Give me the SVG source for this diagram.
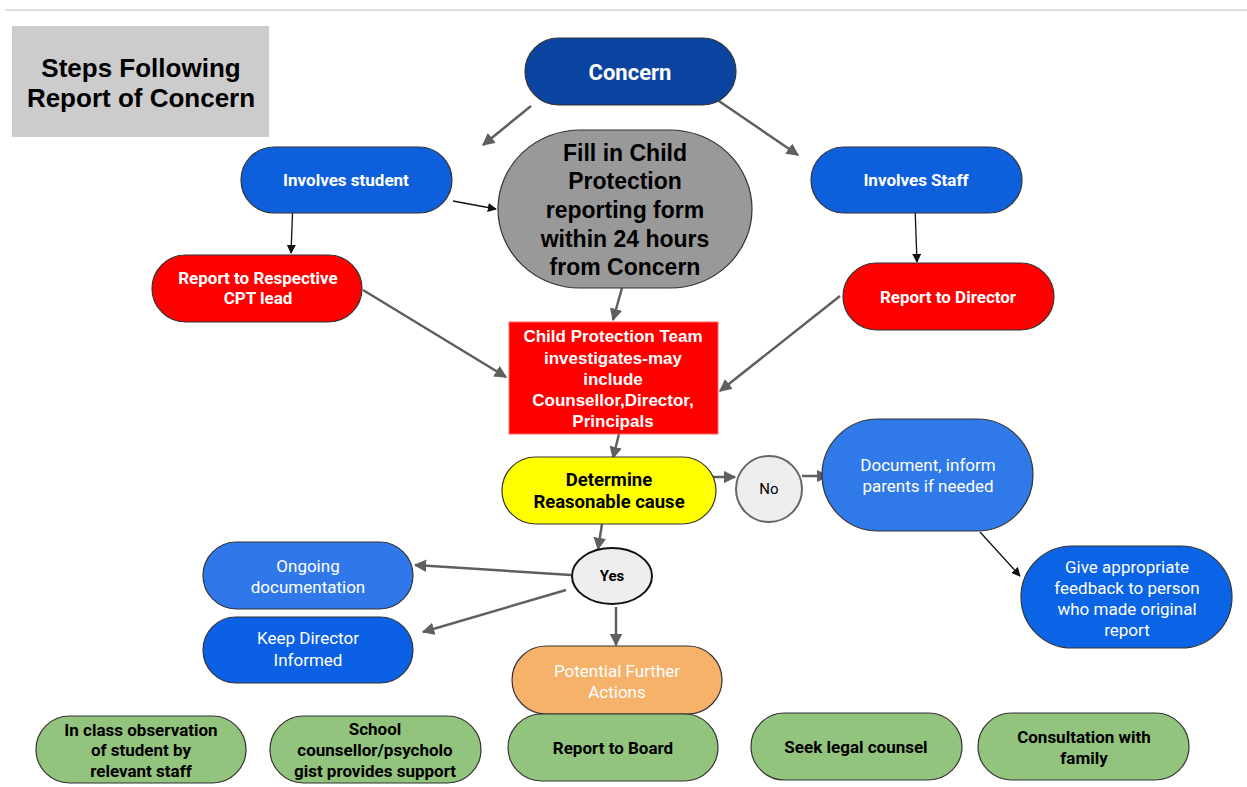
<svg xmlns="http://www.w3.org/2000/svg" width="1247" height="787" viewBox="0 0 1247 787">
<defs>
<style>
.node{stroke:#333;stroke-width:1.2}
.t{font-family:Roboto,"Liberation Sans",sans-serif;text-anchor:middle}
.a{font-family:"Liberation Sans",Arial,sans-serif;text-anchor:middle}
.b{font-weight:bold}
.w{fill:#fff}
.k{fill:#000}
.s15{font-size:15px}
.s17{font-size:17px}
.s18{font-size:18.5px}
.s22{font-size:22px}
.s23{font-size:23px}
.s26{font-size:26px}
.g{stroke:#5f5f5f;stroke-width:2.5;fill:none}
.bk{stroke:#111;stroke-width:1.3;fill:none}
</style>
<marker id="ag" viewBox="0 0 10 10" refX="9" refY="5" markerWidth="5" markerHeight="5" markerUnits="strokeWidth" orient="auto"><path d="M0,0 L10,5 L0,10 z" fill="#5f5f5f"/></marker>
<marker id="ab" viewBox="0 0 10 10" refX="9" refY="5" markerWidth="7" markerHeight="7" markerUnits="strokeWidth" orient="auto"><path d="M0,0 L10,5 L0,10 z" fill="#111"/></marker>
</defs>
<rect width="1247" height="787" fill="#fff"/>
<line x1="5" y1="10" x2="1247" y2="10" stroke="#ddd" stroke-width="2"/>

<g id="title">
<rect x="12" y="26" width="257" height="111" fill="#ccc"/>
<text class="a b k s26" x="141" y="77">Steps Following</text>
<text class="a b k s26" x="141" y="107">Report of Concern</text>
</g>

<g id="connectors">
<line class="g" x1="531" y1="106" x2="483" y2="145" marker-end="url(#ag)"/>
<line class="g" x1="713" y1="97" x2="798" y2="155" marker-end="url(#ag)"/>
<line class="bk" x1="453" y1="201" x2="496" y2="209" marker-end="url(#ab)"/>
<line class="bk" x1="293" y1="201" x2="291" y2="253" marker-end="url(#ab)"/>
<line class="bk" x1="915" y1="207" x2="917" y2="262" marker-end="url(#ab)"/>
<line class="g" x1="622" y1="288" x2="613" y2="320" marker-end="url(#ag)"/>
<line class="g" x1="363" y1="290" x2="506" y2="377" marker-end="url(#ag)"/>
<line class="g" x1="840" y1="296" x2="720" y2="391" marker-end="url(#ag)"/>
<line class="g" x1="619" y1="434" x2="613" y2="458" marker-end="url(#ag)"/>
<line class="g" x1="703" y1="477" x2="735" y2="477" marker-end="url(#ag)"/>
<line class="g" x1="802" y1="476" x2="828" y2="476" marker-end="url(#ag)"/>
<line class="bk" x1="980" y1="532" x2="1020" y2="576" marker-end="url(#ab)"/>
<line class="g" x1="602" y1="524" x2="598" y2="549" marker-end="url(#ag)"/>
<line class="g" x1="571" y1="575" x2="415" y2="565" marker-end="url(#ag)"/>
<line class="g" x1="566" y1="590" x2="423" y2="632" marker-end="url(#ag)"/>
<line class="g" x1="616" y1="607" x2="616" y2="645" marker-end="url(#ag)"/>
</g>

<g id="concern">
<rect class="node" x="525" y="38" width="211" height="67" rx="33.5" fill="#0b44a0"/>
<text class="t b w s22" x="630" y="80">Concern</text>
</g>

<g id="fill-form">
<rect class="node" x="498" y="130" width="254" height="158" rx="82" ry="79" fill="#999"/>
<text class="a b k s23" x="625" y="161">Fill in Child</text>
<text class="a b k s23" x="625" y="189">Protection</text>
<text class="a b k s23" x="625" y="218">reporting form</text>
<text class="a b k s23" x="625" y="247">within 24 hours</text>
<text class="a b k s23" x="625" y="275">from Concern</text>
</g>

<g id="involves-student">
<rect class="node" x="241" y="147" width="211" height="66" rx="33" fill="#0d5fdc"/>
<text class="t b w s17" x="346" y="186">Involves student</text>
</g>

<g id="involves-staff">
<rect class="node" x="811" y="147" width="211" height="66" rx="33" fill="#0d5fdc"/>
<text class="t b w s17" x="916" y="186">Involves Staff</text>
</g>

<g id="report-cpt">
<rect class="node" x="152" y="255" width="210" height="67" rx="33.5" fill="#f00"/>
<text class="t b w s17" x="258" y="284">Report to Respective</text>
<text class="t b w s17" x="258" y="304">CPT lead</text>
</g>

<g id="report-director">
<rect class="node" x="843" y="263" width="211" height="67" rx="33.5" fill="#f00"/>
<text class="t b w s17" x="948" y="303">Report to Director</text>
</g>

<g id="cpt-investigates">
<rect x="509" y="322" width="209" height="112" fill="#f00" stroke="#f66" stroke-width="1"/>
<text class="a b w s17" x="613" y="342">Child Protection Team</text>
<text class="a b w s17" x="613" y="364">investigates-may</text>
<text class="a b w s17" x="613" y="385">include</text>
<text class="a b w s17" x="613" y="406">Counsellor,Director,</text>
<text class="a b w s17" x="613" y="427">Principals</text>
</g>

<g id="determine">
<rect class="node" x="502" y="457" width="214" height="67" rx="33.5" fill="#ff0"/>
<text class="t b k s18" x="609" y="486">Determine</text>
<text class="t b k s18" x="609" y="508">Reasonable cause</text>
</g>

<g id="no">
<circle cx="769" cy="489" r="33" fill="#eee" stroke="#666" stroke-width="2"/>
<text class="t k s15" x="769" y="494">No</text>
</g>

<g id="document">
<rect class="node" x="822" y="419" width="211" height="112" rx="56" fill="#3079e8"/>
<text class="t w s17" x="928" y="471">Document, inform</text>
<text class="t w s17" x="928" y="492">parents if needed</text>
</g>

<g id="feedback">
<rect class="node" x="1021" y="546" width="211" height="102" rx="51" fill="#0b63e5"/>
<text class="t w s17" x="1127" y="573">Give appropriate</text>
<text class="t w s17" x="1127" y="594">feedback to person</text>
<text class="t w s17" x="1127" y="615">who made original</text>
<text class="t w s17" x="1127" y="636">report</text>
</g>

<g id="yes">
<ellipse cx="612" cy="576" rx="40" ry="28" fill="#eee" stroke="#111" stroke-width="2"/>
<text class="t b k s15" x="612" y="581">Yes</text>
</g>

<g id="ongoing">
<rect class="node" x="203" y="542" width="210" height="67" rx="33.5" fill="#3078ea"/>
<text class="t w s17" x="308" y="572">Ongoing</text>
<text class="t w s17" x="308" y="593">documentation</text>
</g>

<g id="keep-director">
<rect class="node" x="203" y="617" width="210" height="66" rx="33" fill="#0b60e6"/>
<text class="t w s17" x="308" y="644">Keep Director</text>
<text class="t w s17" x="308" y="666">Informed</text>
</g>

<g id="potential">
<rect class="node" x="512" y="646" width="210" height="68" rx="34" fill="#f6b26b"/>
<text class="t w s17" x="617" y="677">Potential Further</text>
<text class="t w s17" x="617" y="698">Actions</text>
</g>

<g id="in-class">
<rect class="node" x="36" y="716" width="210" height="67" rx="33.5" fill="#93c47d"/>
<text class="t b k s17" x="141" y="736">In class observation</text>
<text class="t b k s17" x="141" y="756">of student by</text>
<text class="t b k s17" x="141" y="777">relevant staff</text>
</g>

<g id="school-counsellor">
<rect class="node" x="270" y="716" width="211" height="67" rx="33.5" fill="#93c47d"/>
<text class="t b k s17" x="375" y="735">School</text>
<text class="t b k s17" x="375" y="756">counsellor/psycholo</text>
<text class="t b k s17" x="375" y="777">gist provides support</text>
</g>

<g id="report-board">
<rect class="node" x="508" y="714" width="210" height="67" rx="33.5" fill="#93c47d"/>
<text class="t b k s17" x="613" y="754">Report to Board</text>
</g>

<g id="legal">
<rect class="node" x="751" y="713" width="211" height="67" rx="33.5" fill="#93c47d"/>
<text class="t b k s17" x="856" y="753">Seek legal counsel</text>
</g>

<g id="consultation">
<rect class="node" x="978" y="713" width="211" height="67" rx="33.5" fill="#93c47d"/>
<text class="t b k s17" x="1084" y="743">Consultation with</text>
<text class="t b k s17" x="1084" y="764">family</text>
</g>
</svg>
